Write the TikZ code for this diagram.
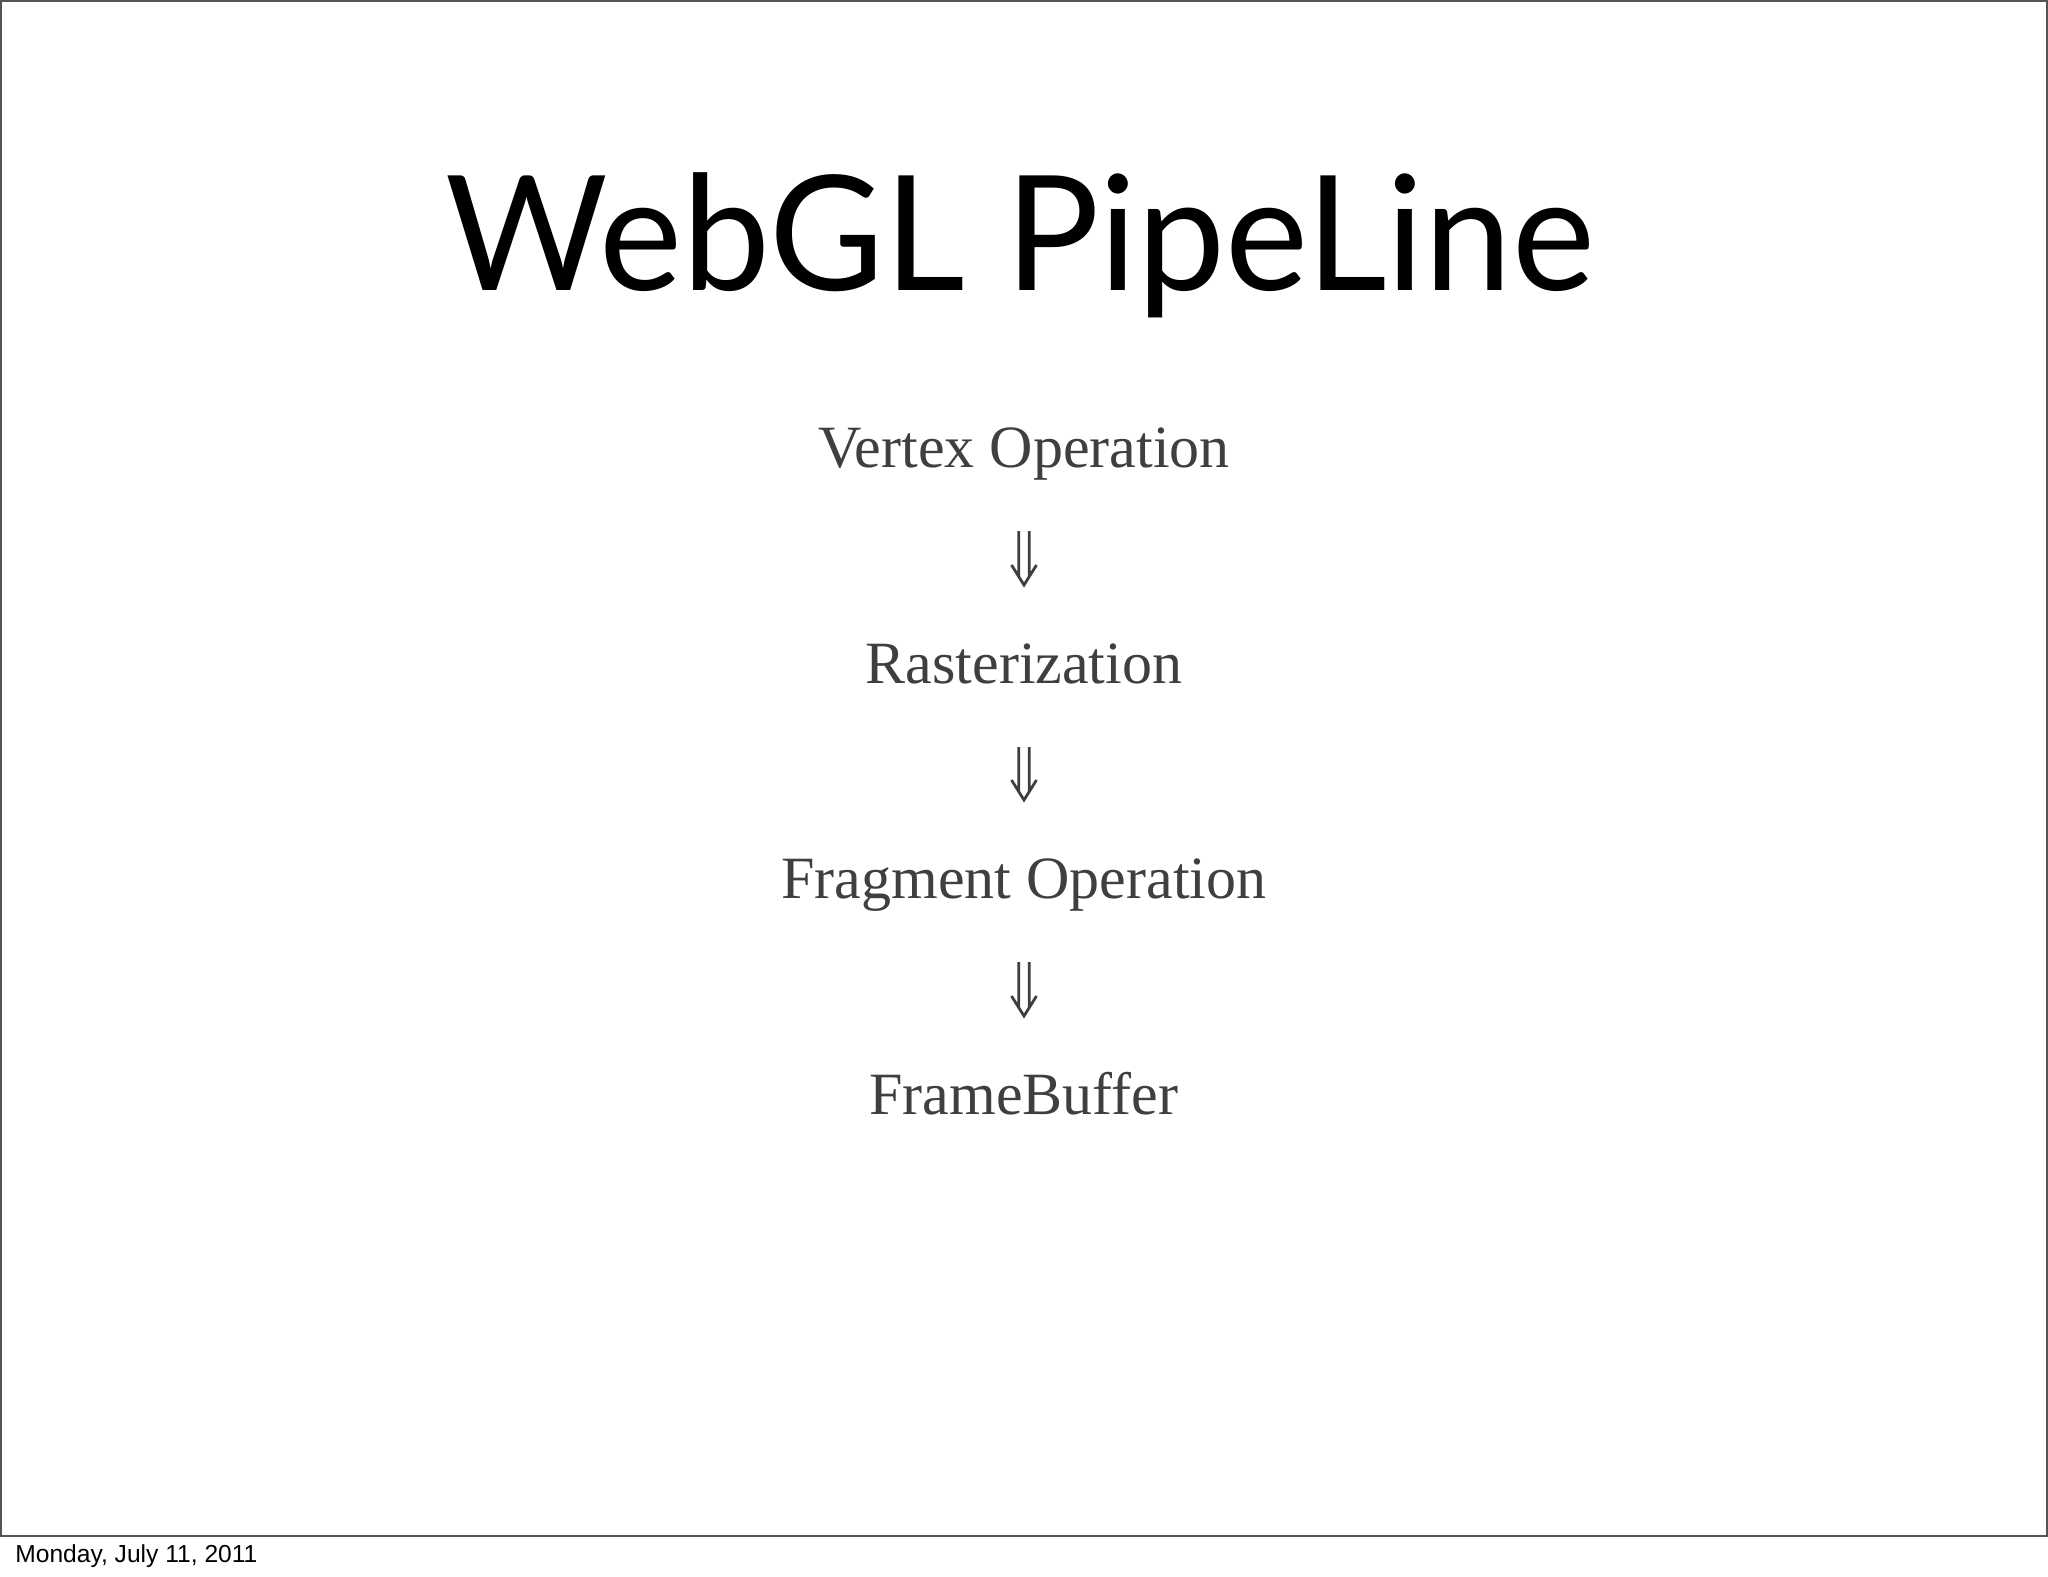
\documentclass[tikz,border=0pt]{standalone}
\usepackage{fontspec}
\setmainfont{Liberation Serif}
\newfontfamily\titlefont{Lato}
\newfontfamily\datefont{Liberation Sans}
\usetikzlibrary{calc}
\definecolor{bodygray}{HTML}{3F3F3F}
\definecolor{framegray}{HTML}{555555}
\begin{document}
\begin{tikzpicture}[x=0.5pt,y=-0.5pt,
  stage/.style={anchor=base, inner sep=0pt, text=bodygray, font=\fontsize{30}{34}\selectfont},
  dbl/.style={draw=bodygray, line width=1.4pt, line cap=butt, line join=miter,
    to path={($(\tikztostart)+(-5.2,0)$) -- ($(\tikztotarget)+(-5.2,-8)$)
             ($(\tikztostart)+(5.2,0)$) -- ($(\tikztotarget)+(5.2,-8)$)
             ($(\tikztotarget)+(-12.5,-20)$) -- (\tikztotarget) -- ($(\tikztotarget)+(12.5,-20)$)}},
  framebox/.style={draw=framegray, line width=1pt}]
\useasboundingbox (0,0) rectangle (2048,1576);
\fill[white] (0,0) rectangle (2048,1576);
\draw[framebox] (1,1) rectangle (2047,1535.5);
\node[anchor=base, inner sep=0pt, xscale=0.982, font=\titlefont\fontsize{80}{90}\selectfont] (title) at (1020,290) {WebGL PipeLine};
\node[stage] (v) at (1024,467) {Vertex Operation};
\node[stage] (r) at (1024,683) {Rasterization};
\node[stage] (f) at (1024,898) {Fragment Operation};
\node[stage] (b) at (1024,1114) {FrameBuffer};
\draw[dbl] ($(v.base)+(0,64)$) to ($(r.base)+(0,-98)$);
\draw[dbl] ($(r.base)+(0,64)$) to ($(f.base)+(0,-98)$);
\draw[dbl] ($(f.base)+(0,64)$) to ($(b.base)+(0,-98)$);
\node[anchor=base west, inner sep=0pt, font=\datefont\fontsize{12.3}{14}\selectfont] (date) at (15,1562) {Monday, July 11, 2011};
\end{tikzpicture}
\end{document}
